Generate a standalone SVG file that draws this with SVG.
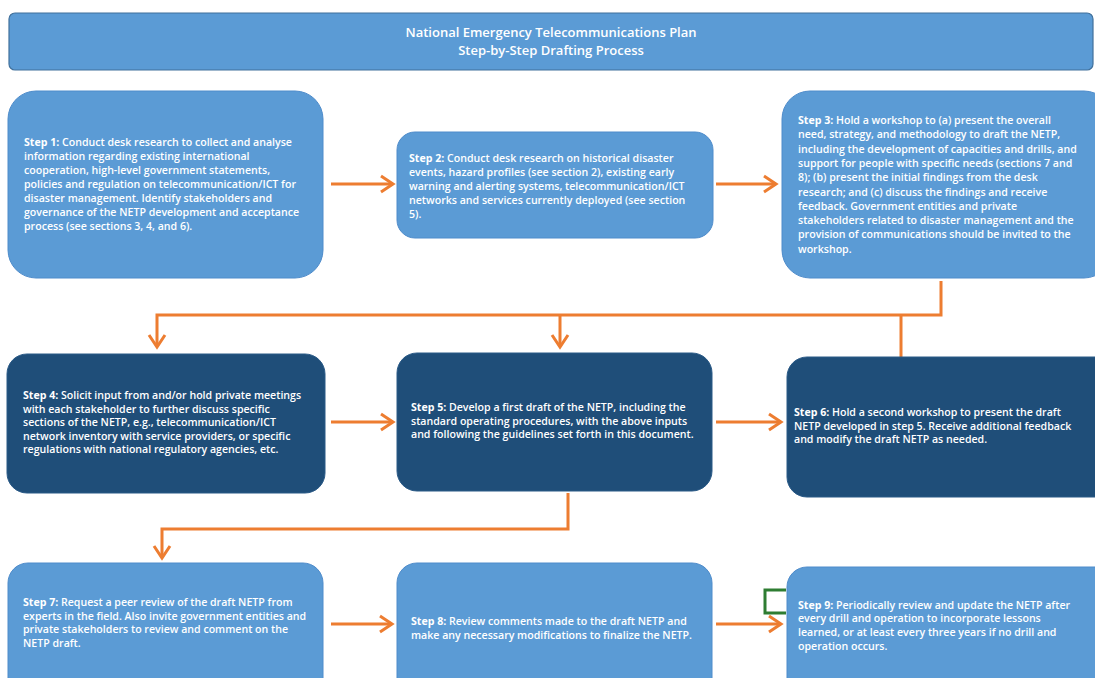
<svg xmlns="http://www.w3.org/2000/svg" width="1095" height="678" viewBox="0 0 1095 678">
<style>
.lb{fill:#5b9bd5;stroke:#4f8ccb;stroke-width:1}
.db{fill:#1f4e79;stroke:#2a5a87;stroke-width:1}
.t{font-family:"Open Sans","Liberation Sans",sans-serif;font-size:10.6px;font-weight:600;fill:#ffffff}
.t tspan.b{font-weight:700}
.title{font-family:"Open Sans","Liberation Sans",sans-serif;font-size:13px;font-weight:600;fill:#ffffff;text-anchor:middle}
.c{fill:none;stroke:#ed7d31;stroke-width:3}
</style>
<defs>
<marker id="ah" markerUnits="userSpaceOnUse" markerWidth="18" markerHeight="20" refX="14" refY="10" orient="auto">
<path d="M2,2 L14,10 L2,18" fill="none" stroke="#ed7d31" stroke-width="3"/>
</marker>
</defs>
<rect x="0" y="0" width="1095" height="678" fill="#ffffff"/>
<g id="header">
<rect x="9" y="13" width="1084" height="57" rx="6" fill="#5b9bd5" stroke="#41719c" stroke-width="1.2"/>
<text class="title" x="551" y="36.5">National Emergency Telecommunications Plan</text>
<text class="title" x="551" y="54.5">Step-by-Step Drafting Process</text>
</g>
<g id="connectors">
<line class="c" x1="331" y1="184" x2="393" y2="184" marker-end="url(#ah)"/>
<line class="c" x1="716" y1="184" x2="776" y2="184" marker-end="url(#ah)"/>
<path class="c" d="M941,281 V315 H157 V347" marker-end="url(#ah)"/>
<line class="c" x1="560" y1="315" x2="560" y2="347" marker-end="url(#ah)"/>
<line class="c" x1="901" y1="315" x2="901" y2="358"/>
<line class="c" x1="331" y1="422" x2="393" y2="422" marker-end="url(#ah)"/>
<line class="c" x1="716" y1="422" x2="781" y2="422" marker-end="url(#ah)"/>
<path class="c" d="M568,493 V529 H162 V558" marker-end="url(#ah)"/>
<line class="c" x1="331" y1="624" x2="392" y2="624" marker-end="url(#ah)"/>
<line class="c" x1="716" y1="624" x2="781" y2="624" marker-end="url(#ah)"/>
<path d="M786,590 H765 V613 H786" fill="none" stroke="#2e7d32" stroke-width="3"/>
</g>
<g id="step1">
<rect class="lb" x="8" y="91" width="315" height="187" rx="28"/>
<text class="t"><tspan class="b" x="24" y="145.5">Step 1:</tspan> Conduct desk research to collect and analyse<tspan x="24" y="159.5">information regarding existing international</tspan><tspan x="24" y="173.5">cooperation, high-level government statements,</tspan><tspan x="24" y="187.5">policies and regulation on telecommunication/ICT for</tspan><tspan x="24" y="201.5">disaster management. Identify stakeholders and</tspan><tspan x="24" y="216">governance of the NETP development and acceptance</tspan><tspan x="24" y="230">process (see sections 3, 4, and 6).</tspan></text>
</g>
<g id="step2">
<rect class="lb" x="397" y="132" width="316" height="106" rx="18"/>
<text class="t"><tspan class="b" x="409" y="162">Step 2:</tspan> Conduct desk research on historical disaster<tspan x="409" y="176">events, hazard profiles (see section 2), existing early</tspan><tspan x="409" y="190">warning and alerting systems, telecommunication/ICT</tspan><tspan x="409" y="204">networks and services currently deployed (see section</tspan><tspan x="409" y="218">5).</tspan></text>
</g>
<g id="step3">
<rect class="lb" x="782" y="91" width="330" height="187" rx="28"/>
<text class="t"><tspan class="b" x="798" y="124">Step 3:</tspan> Hold a workshop to (a) present the overall<tspan x="798" y="138.3">need, strategy, and methodology to draft the NETP,</tspan><tspan x="798" y="152.6">including the development of capacities and drills, and</tspan><tspan x="798" y="166.9">support for people with specific needs (sections 7 and</tspan><tspan x="798" y="181.2">8); (b) present the initial findings from the desk</tspan><tspan x="798" y="195.5">research; and (c) discuss the findings and receive</tspan><tspan x="798" y="209.8">feedback. Government entities and private</tspan><tspan x="798" y="224.1">stakeholders related to disaster management and the</tspan><tspan x="798" y="238.4">provision of communications should be invited to the</tspan><tspan x="798" y="252.7">workshop.</tspan></text>
</g>
<g id="step4">
<rect class="db" x="7" y="354" width="318" height="139" rx="20"/>
<text class="t"><tspan class="b" x="23" y="399">Step 4:</tspan> Solicit input from and/or hold private meetings<tspan x="23" y="412.5">with each stakeholder to further discuss specific</tspan><tspan x="23" y="426">sections of the NETP, e.g., telecommunication/ICT</tspan><tspan x="23" y="439.5">network inventory with service providers, or specific</tspan><tspan x="23" y="453">regulations with national regulatory agencies, etc.</tspan></text>
</g>
<g id="step5">
<rect class="db" x="397" y="353" width="315" height="138" rx="20"/>
<text class="t"><tspan class="b" x="411" y="411">Step 5:</tspan> Develop a first draft of the NETP, including the<tspan x="411" y="424.5">standard operating procedures, with the above inputs</tspan><tspan x="411" y="438">and following the guidelines set forth in this document.</tspan></text>
</g>
<g id="step6">
<rect class="db" x="787" y="357" width="330" height="140" rx="20"/>
<text class="t"><tspan class="b" x="794" y="416">Step 6:</tspan> Hold a second workshop to present the draft<tspan x="794" y="429.5">NETP developed in step 5. Receive additional feedback</tspan><tspan x="794" y="443">and modify the draft NETP as needed.</tspan></text>
</g>
<g id="step7">
<rect class="lb" x="8" y="563" width="315" height="140" rx="20"/>
<text class="t"><tspan class="b" x="23" y="606">Step 7:</tspan> Request a peer review of the draft NETP from<tspan x="23" y="619.7">experts in the field. Also invite government entities and</tspan><tspan x="23" y="633.4">private stakeholders to review and comment on the</tspan><tspan x="23" y="647.1">NETP draft.</tspan></text>
</g>
<g id="step8">
<rect class="lb" x="397" y="563" width="315" height="140" rx="20"/>
<text class="t"><tspan class="b" x="411" y="625">Step 8:</tspan> Review comments made to the draft NETP and<tspan x="411" y="638.7">make any necessary modifications to finalize the NETP.</tspan></text>
</g>
<g id="step9">
<rect class="lb" x="787" y="567" width="330" height="140" rx="20"/>
<text class="t"><tspan class="b" x="798" y="608.5">Step 9:</tspan> Periodically review and update the NETP after<tspan x="798" y="622.3">every drill and operation to incorporate lessons</tspan><tspan x="798" y="636.1">learned, or at least every three years if no drill and</tspan><tspan x="798" y="649.9">operation occurs.</tspan></text>
</g>
</svg>
